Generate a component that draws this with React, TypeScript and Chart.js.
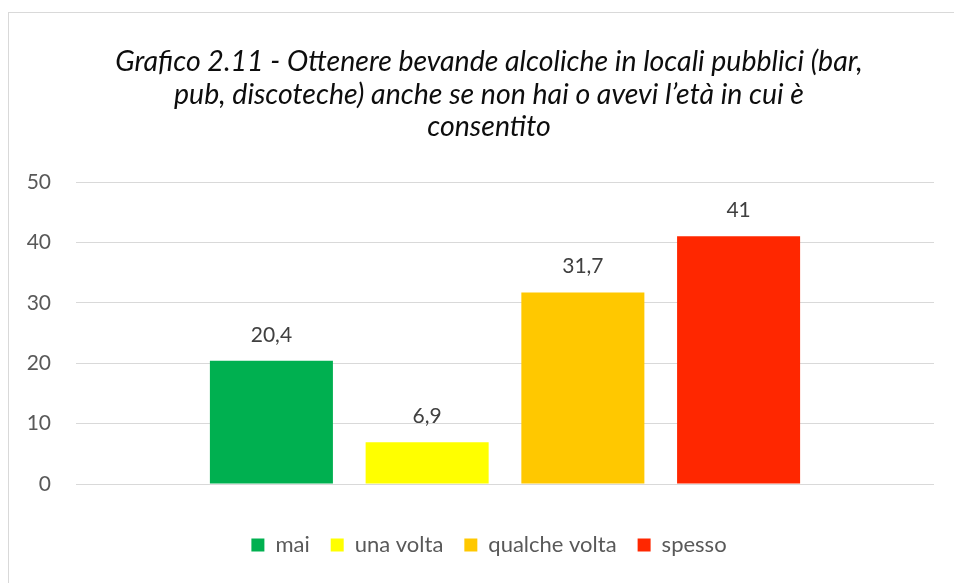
import React, { useEffect, useRef } from "react";
import { Chart, registerables } from "chart.js";

Chart.register(...registerables);

const categories = [""];
const seriesNames = ["mai", "una volta", "qualche volta", "spesso"];
const seriesValues = [20.4, 6.9, 31.7, 41];
const seriesColors = ["#00B050", "#FFFF00", "#FFC800", "#FF2700"];
const titleLines = [
  "Grafico 2.11 - Ottenere bevande alcoliche in locali pubblici (bar,",
  "pub, discoteche) anche se non hai o avevi l\u2019età in cui è",
  "consentito",
];

const FONT = "Lato, 'Liberation Sans', sans-serif";

const fmt = (v: number) => String(v).replace(".", ",");

const valueLabels = {
  id: "valueLabels",
  afterDatasetsDraw(chart: any) {
    const ctx = chart.ctx;
    ctx.save();
    ctx.font = `21px ${FONT}`;
    ctx.fillStyle = "#404040";
    ctx.textAlign = "center";
    ctx.textBaseline = "middle";
    chart.data.datasets.forEach((ds: any, i: number) => {
      const meta = chart.getDatasetMeta(i);
      meta.data.forEach((bar: any, j: number) => {
        ctx.fillText(fmt(ds.data[j]), bar.x, bar.y - 26);
      });
    });
    ctx.restore();
  },
};

const frame = {
  id: "frame",
  beforeDraw(chart: any) {
    const ctx = chart.ctx;
    ctx.save();
    ctx.strokeStyle = "#d9d9d9";
    ctx.lineWidth = 1;
    ctx.strokeRect(8.5, 12.5, 2000, 2000);
    ctx.restore();
  },
};

export default function App() {
  const ref = useRef<HTMLCanvasElement>(null);
  useEffect(() => {
    if (!ref.current) return;
    const chart = new Chart(ref.current, {
      type: "bar",
      data: {
        labels: categories,
        datasets: seriesNames.map((name, i) => ({
          label: name,
          data: [seriesValues[i]],
          backgroundColor: seriesColors[i],
          borderWidth: 0,
          categoryPercentage: 0.726,
          barPercentage: 0.79,
        })),
      },
      options: {
        responsive: false,
        animation: false,
        layout: { padding: { left: 24, right: 0, top: 0, bottom: 17 } },
        plugins: {
          tooltip: { enabled: false },
          title: {
            display: true,
            text: titleLines,
            color: "#0d0d0d",
            font: { family: FONT, size: 28.5, style: "italic", weight: "normal", lineHeight: 32.4 / 28.5 },
            padding: { top: 45.8, bottom: 39 },
          },
          legend: {
            position: "bottom",
            labels: {
              boxWidth: 13,
              boxHeight: 13,
              padding: 21,
              color: "#595959",
              font: { family: FONT, size: 22 },
            },
          },
        },
        scales: {
          x: {
            grid: { display: false },
            border: { display: false },
            ticks: { display: false },
            afterFit: (s: any) => {
              s.height = 29;
            },
          },
          y: {
            min: 0,
            max: 50,
            ticks: {
              stepSize: 10,
              padding: 25,
              color: "#595959",
              font: { family: FONT, size: 21 },
            },
            grid: { color: "#d9d9d9", lineWidth: 1, drawTicks: false },
            border: { display: false },
            afterFit: (s: any) => {
              s.width = 52;
            },
          },
          yRight: {
            position: "right",
            min: 0,
            max: 1,
            grid: { display: false },
            border: { display: false },
            ticks: { display: false },
            afterFit: (s: any) => {
              s.width = 20;
            },
          },
        },
      },
      plugins: [frame, valueLabels],
    });
    return () => chart.destroy();
  }, []);
  return (
    <div style={{ position: "fixed", left: 0, top: 0, width: 954, height: 583, background: "#fff" }}>
      <canvas ref={ref} width={954} height={583} style={{ display: "block" }} />
    </div>
  );
}
